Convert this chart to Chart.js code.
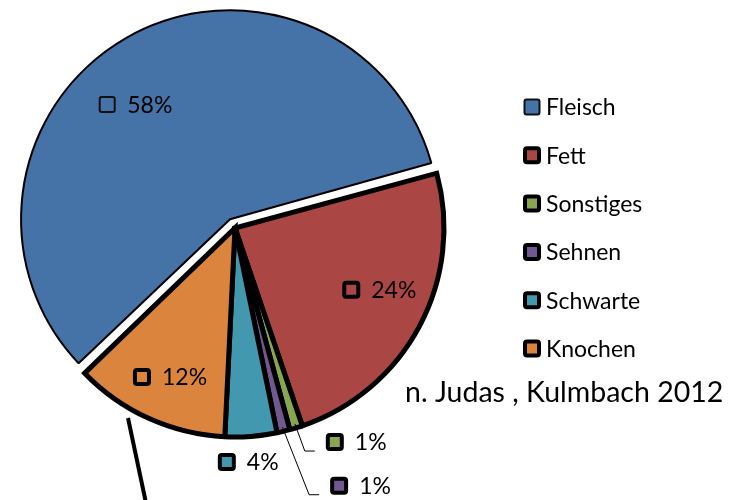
<!DOCTYPE html>
<html>
<head>
<meta charset="utf-8">
<script src="https://cdn.jsdelivr.net/npm/chart.js@4/dist/chart.umd.min.js"></script>
<style>
  html, body { margin: 0; padding: 0; background: #fff; }
  #wrap { width: 737px; height: 500px; overflow: hidden; }
</style>
</head>
<body>
<div id="wrap"><canvas id="mycanvas" width="737" height="500"></canvas></div>
<script>
var kategorien = ['Fleisch', 'Fett', 'Sonstiges', 'Sehnen', 'Schwarte', 'Knochen'];
var anteile = [58, 24, 1, 1, 4, 12];
var farben = ['#4572A7', '#AA4643', '#89A54E', '#71588F', '#4198AF', '#DB843D'];
var quelle = 'n. Judas , Kulmbach 2012';

// where the value labels sit: angle (deg, clockwise from top) and distance in radii
var labelWinkel = [314, 118, 155, 158, 182, 212];
var labelAbstand = [0.85, 0.63, 1.13, 1.33, 1.12, 0.84];
var mitLinie = [false, false, true, true, false, false];

var schrift = 'Lato, "Open Sans", sans-serif';

function kaestchen(ctx, x, y, farbe, dick) {
  var s = dick ? 14 : 15;
  ctx.save();
  ctx.beginPath();
  if (ctx.roundRect) ctx.roundRect(x - s / 2, y - s / 2, s, s, 2);
  else ctx.rect(x - s / 2, y - s / 2, s, s);
  ctx.fillStyle = farbe;
  ctx.fill();
  ctx.lineWidth = dick ? 4 : 2;
  ctx.strokeStyle = dick ? '#000' : '#111';
  ctx.stroke();
  ctx.restore();
}

var beschriftung = {
  id: 'beschriftung',
  afterDatasetUpdate: function(chart) {
    // Chart.js grows offset slices wider than half a circle (by offset/4), keep them at pie size
    chart.getDatasetMeta(0).data.forEach(function(arc) {
      var off = arc.options.offset || 0;
      if (off > 0 && arc.circumference > Math.PI) {
        arc.outerRadius = arc.outerRadius - off / 4;
      }
    });
  },
  afterDraw: function(chart) {
    var ctx = chart.ctx;
    var arcs = chart.getDatasetMeta(0).data;
    var ref = arcs[1];
    var cx = ref.x, cy = ref.y, r = ref.outerRadius;
    var total = anteile.reduce(function(a, b) { return a + b; }, 0);

    ctx.save();
    // value labels
    arcs.forEach(function(arc, i) {
      var w = labelWinkel[i] * Math.PI / 180;
      var lx = cx + Math.sin(w) * r * labelAbstand[i];
      var ly = cy - Math.cos(w) * r * labelAbstand[i];
      if (mitLinie[i]) {
        var mid = (arc.startAngle + arc.endAngle) / 2;
        ctx.beginPath();
        ctx.moveTo(cx + Math.cos(mid) * r * 0.98, cy + Math.sin(mid) * r * 0.98);
        ctx.lineTo(lx - 30, ly + 9);
        ctx.lineTo(lx - 20, ly + 9);
        ctx.lineWidth = 1;
        ctx.strokeStyle = '#000';
        ctx.stroke();
      }
      kaestchen(ctx, lx, ly, farben[i], i !== 0);
      ctx.fillStyle = '#000';
      ctx.font = '23px ' + schrift;
      ctx.textAlign = 'left';
      ctx.textBaseline = 'middle';
      ctx.fillText(Math.round(anteile[i] / total * 100) + '%', lx + 20, ly + 1);
    });

    // legend
    kategorien.forEach(function(name, i) {
      var y = 107 + i * 48.3;
      kaestchen(ctx, 532, y, farben[i], i !== 0);
      ctx.fillStyle = '#000';
      ctx.font = '23px ' + schrift;
      ctx.textAlign = 'left';
      ctx.textBaseline = 'middle';
      ctx.fillText(name, 546, y + 1);
    });

    // source
    ctx.font = '28.5px ' + schrift;
    ctx.fillText(quelle, 405, 393);

    // stray connector line running off the bottom
    ctx.beginPath();
    ctx.moveTo(cx - 107, cy + 190);
    ctx.lineTo(cx - 89, cy + 275);
    ctx.lineWidth = 4;
    ctx.strokeStyle = '#000';
    ctx.stroke();
    ctx.restore();
  }
};

var ctx = document.getElementById('mycanvas');

var pieChart = new Chart(ctx, {
  type: 'pie',
  data: {
    labels: kategorien,
    datasets: [{
      data: anteile,
      backgroundColor: farben,
      borderColor: '#000',
      borderWidth: [2, 5, 5, 5, 5, 5],
      offset: [40, 0, 0, 0, 0, 0],
      borderJoinStyle: ['bevel', 'miter', 'bevel', 'bevel', 'bevel', 'miter']
    }]
  },
  options: {
    responsive: false,
    animation: false,
    rotation: 226,
    radius: 209,
    layout: { padding: { left: 0, top: 0, right: 267, bottom: 44 } },
    plugins: {
      legend: { display: false },
      tooltip: { enabled: false }
    }
  },
  plugins: [beschriftung]
});
</script>
</body>
</html>
